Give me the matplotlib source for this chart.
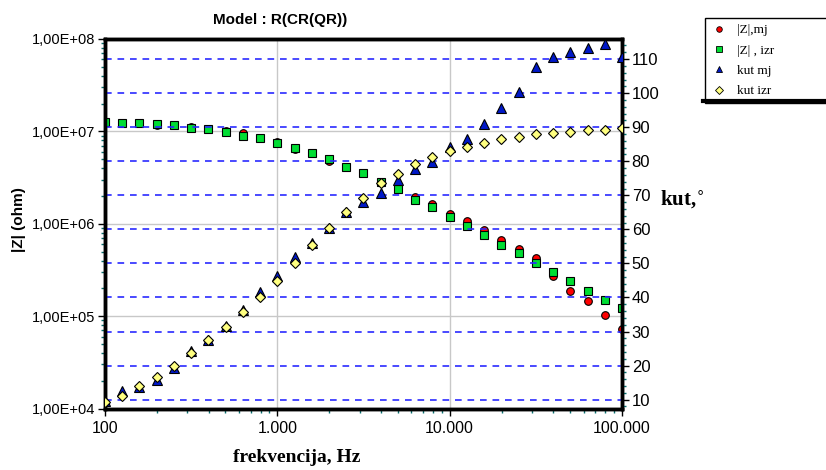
import matplotlib.pyplot as plt
from matplotlib.lines import Line2D
from matplotlib.ticker import FixedLocator, LogLocator, MultipleLocator, NullFormatter

# Data
freq = [100, 126, 158, 200, 251, 316, 398, 501, 631, 794,
        1000, 1259, 1585, 1995, 2512, 3162, 3981, 5012, 6310, 7943,
        10000, 12589, 15849, 19953, 25119, 31623, 39811, 50119, 63096, 79433,
        100000]

z_mj = [1.26e7, 1.24e7, 1.23e7, 1.16e7, 1.17e7, 1.11e7, 1.06e7, 1.0e7, 9.5e6, 8.5e6,
        7.6e6, 6.5e6, 5.8e6, 4.8e6, 4.1e6, 3.5e6, 2.8e6, 2.4e6, 1.95e6, 1.62e6,
        1.28e6, 1.08e6, 8.5e5, 6.64e5, 5.27e5, 4.31e5, 2.71e5, 1.89e5, 1.45e5, 1.04e5,
        7.2e4]

z_izr = [1.25e7, 1.24e7, 1.22e7, 1.21e7, 1.17e7, 1.10e7, 1.05e7, 9.9e6, 8.9e6, 8.4e6,
         7.5e6, 6.6e6, 5.8e6, 4.97e6, 4.1e6, 3.5e6, 2.84e6, 2.36e6, 1.83e6, 1.52e6,
         1.19e6, 9.4e5, 7.5e5, 5.96e5, 4.77e5, 3.77e5, 3.04e5, 2.39e5, 1.86e5, 1.48e5,
         1.21e5]

kut_mj = [9.5, 12.4, 13.8, 15.8, 19.4, 24.4, 27.5, 31.7, 36.3, 41.5,
          46.3, 51.8, 55.9, 60.5, 65.2, 67.9, 70.6, 74.5, 77.6, 79.9,
          84.3, 86.5, 90.9, 95.7, 100.2, 107.7, 110.7, 112.0, 113.4, 114.4,
          110.5]

kut_izr = [9.2, 11.2, 14.0, 16.7, 19.9, 23.6, 27.5, 31.2, 35.8, 40.2,
           44.9, 50.0, 55.4, 60.3, 65.2, 69.1, 73.5, 76.4, 79.3, 81.3,
           83.1, 84.3, 85.5, 86.6, 87.2, 87.9, 88.4, 88.6, 89.1, 89.1,
           89.8]

x_ticks = [100, 1000, 10000, 100000]
x_labels = ['100', '1.000', '10.000', '100.000']
z_ticks = [1e4, 1e5, 1e6, 1e7, 1e8]
z_labels = ['1,00E+04', '1,00E+05', '1,00E+06', '1,00E+07', '1,00E+08']
kut_ticks = [10, 20, 30, 40, 50, 60, 70, 80, 90, 100, 110]

SANS = 'Liberation Sans'
SERIF = 'Liberation Serif'
TEAL = '#0a6e6e'

fig = plt.figure(figsize=(8.26, 4.70), dpi=100)
ax = fig.add_axes([105 / 826, 1 - 408.5 / 470, (622 - 105) / 826, (408.5 - 39) / 470])

ax.set_xscale('log')
ax.set_yscale('log')
ax.set_xlim(100, 100000)
ax.set_ylim(1e4, 1e8)

ax.plot(freq, z_mj, 'o', ms=5.5, mfc='#ff0000', mec='black', mew=0.8, zorder=3)
ax.plot(freq, z_izr, 's', ms=5.2, mfc='#00dd33', mec='black', mew=0.8, zorder=4)

# gray grid at decades
ax.xaxis.set_major_locator(FixedLocator(x_ticks))
ax.yaxis.set_major_locator(FixedLocator(z_ticks))
ax.xaxis.set_minor_locator(LogLocator(base=10, subs=range(2, 10)))
ax.yaxis.set_minor_locator(LogLocator(base=10, subs=range(2, 10)))
ax.xaxis.set_minor_formatter(NullFormatter())
ax.yaxis.set_minor_formatter(NullFormatter())
ax.set_xticklabels(x_labels)
ax.set_yticklabels(z_labels)
ax.grid(True, which='major', color='#c8c8c8', lw=1.0, zorder=0)
ax.set_axisbelow(True)

ax.tick_params(which='major', direction='out', length=5, width=1, color='black', pad=2)
ax.tick_params(axis='y', which='major', labelsize=10.5)
ax.tick_params(axis='x', which='major', labelsize=11.5, pad=4)
ax.tick_params(which='minor', direction='out', length=3, width=1, color=TEAL)
for lab in ax.get_xticklabels() + ax.get_yticklabels():
    lab.set_fontfamily(SANS)

for sp in ax.spines.values():
    sp.set_linewidth(2.5)
    sp.set_color('black')

# right angle axis
ax2 = ax.twinx()
ax2.set_ylim(7.4, 115.9)
ax2.yaxis.set_major_locator(FixedLocator(kut_ticks))
ax2.yaxis.set_minor_locator(MultipleLocator(2))
ax2.grid(True, which='major', axis='y', color='#2a2aff', lw=1.2, ls=(0, (4, 3.5)))
ax2.set_axisbelow(True)
ax2.tick_params(axis='y', which='major', direction='out', length=5, width=1,
                color='black', labelsize=12, pad=2)
ax2.tick_params(axis='y', which='minor', direction='out', length=3, width=1, color=TEAL)
for lab in ax2.get_yticklabels():
    lab.set_fontfamily(SANS)
for sp in ax2.spines.values():
    sp.set_linewidth(2.5)

ax2.plot(freq, kut_mj, '^', ms=6.5, mfc='#0018c8', mec='black', mew=0.8, zorder=3)
ax2.plot(freq, kut_izr, 'D', ms=5.2, mfc='#ffff80', mec='black', mew=0.8, zorder=4)

# texts
fig.text(280 / 826, 1 - 20 / 470, 'Model : R(CR(QR))', ha='center', va='center',
         fontsize=11, fontweight='bold', family=SANS)
fig.text(19 / 826, 1 - 220 / 470, '|Z| (ohm)', ha='center', va='center', rotation=90,
         fontsize=11, fontweight='bold', family=SANS)
fig.text(660 / 826, 1 - 200 / 470, 'kut,$^{\\circ}$', ha='left', va='center',
         fontsize=15, fontweight='bold', family=SERIF)
fig.text(297 / 826, 1 - 458 / 470, 'frekvencija, Hz', ha='center', va='center',
         fontsize=14, fontweight='bold', family=SERIF)

# legend
handles = [
    Line2D([], [], ls='none', marker='o', ms=4, mfc='#ff0000', mec='black', mew=0.6),
    Line2D([], [], ls='none', marker='s', ms=4, mfc='#00dd33', mec='black', mew=0.6),
    Line2D([], [], ls='none', marker='^', ms=5, mfc='#0018c8', mec='black', mew=0.6),
    Line2D([], [], ls='none', marker='D', ms=4, mfc='#ffff80', mec='black', mew=0.6),
]
labels = ['|Z|,mj', '|Z| , izr', 'kut mj', 'kut izr']
leg = fig.legend(handles, labels, loc='upper left',
                 bbox_to_anchor=(705 / 826, 1 - 101 / 470, 0.2, 83 / 470), mode='expand',
                 borderaxespad=0,
                 frameon=True, fancybox=False, edgecolor='black', framealpha=1,
                 prop={'family': SERIF, 'size': 9.5}, handlelength=1.2,
                 handletextpad=0.8, labelspacing=0.62, borderpad=0.45)
leg.get_frame().set_linewidth(1.0)
leg.set_zorder(5)
fig.add_artist(Line2D([703 / 826, 1.0], [1 - 101 / 470, 1 - 101 / 470],
                      color='black', lw=3, transform=fig.transFigure, zorder=6))

fig.savefig('out.png', dpi=100)
